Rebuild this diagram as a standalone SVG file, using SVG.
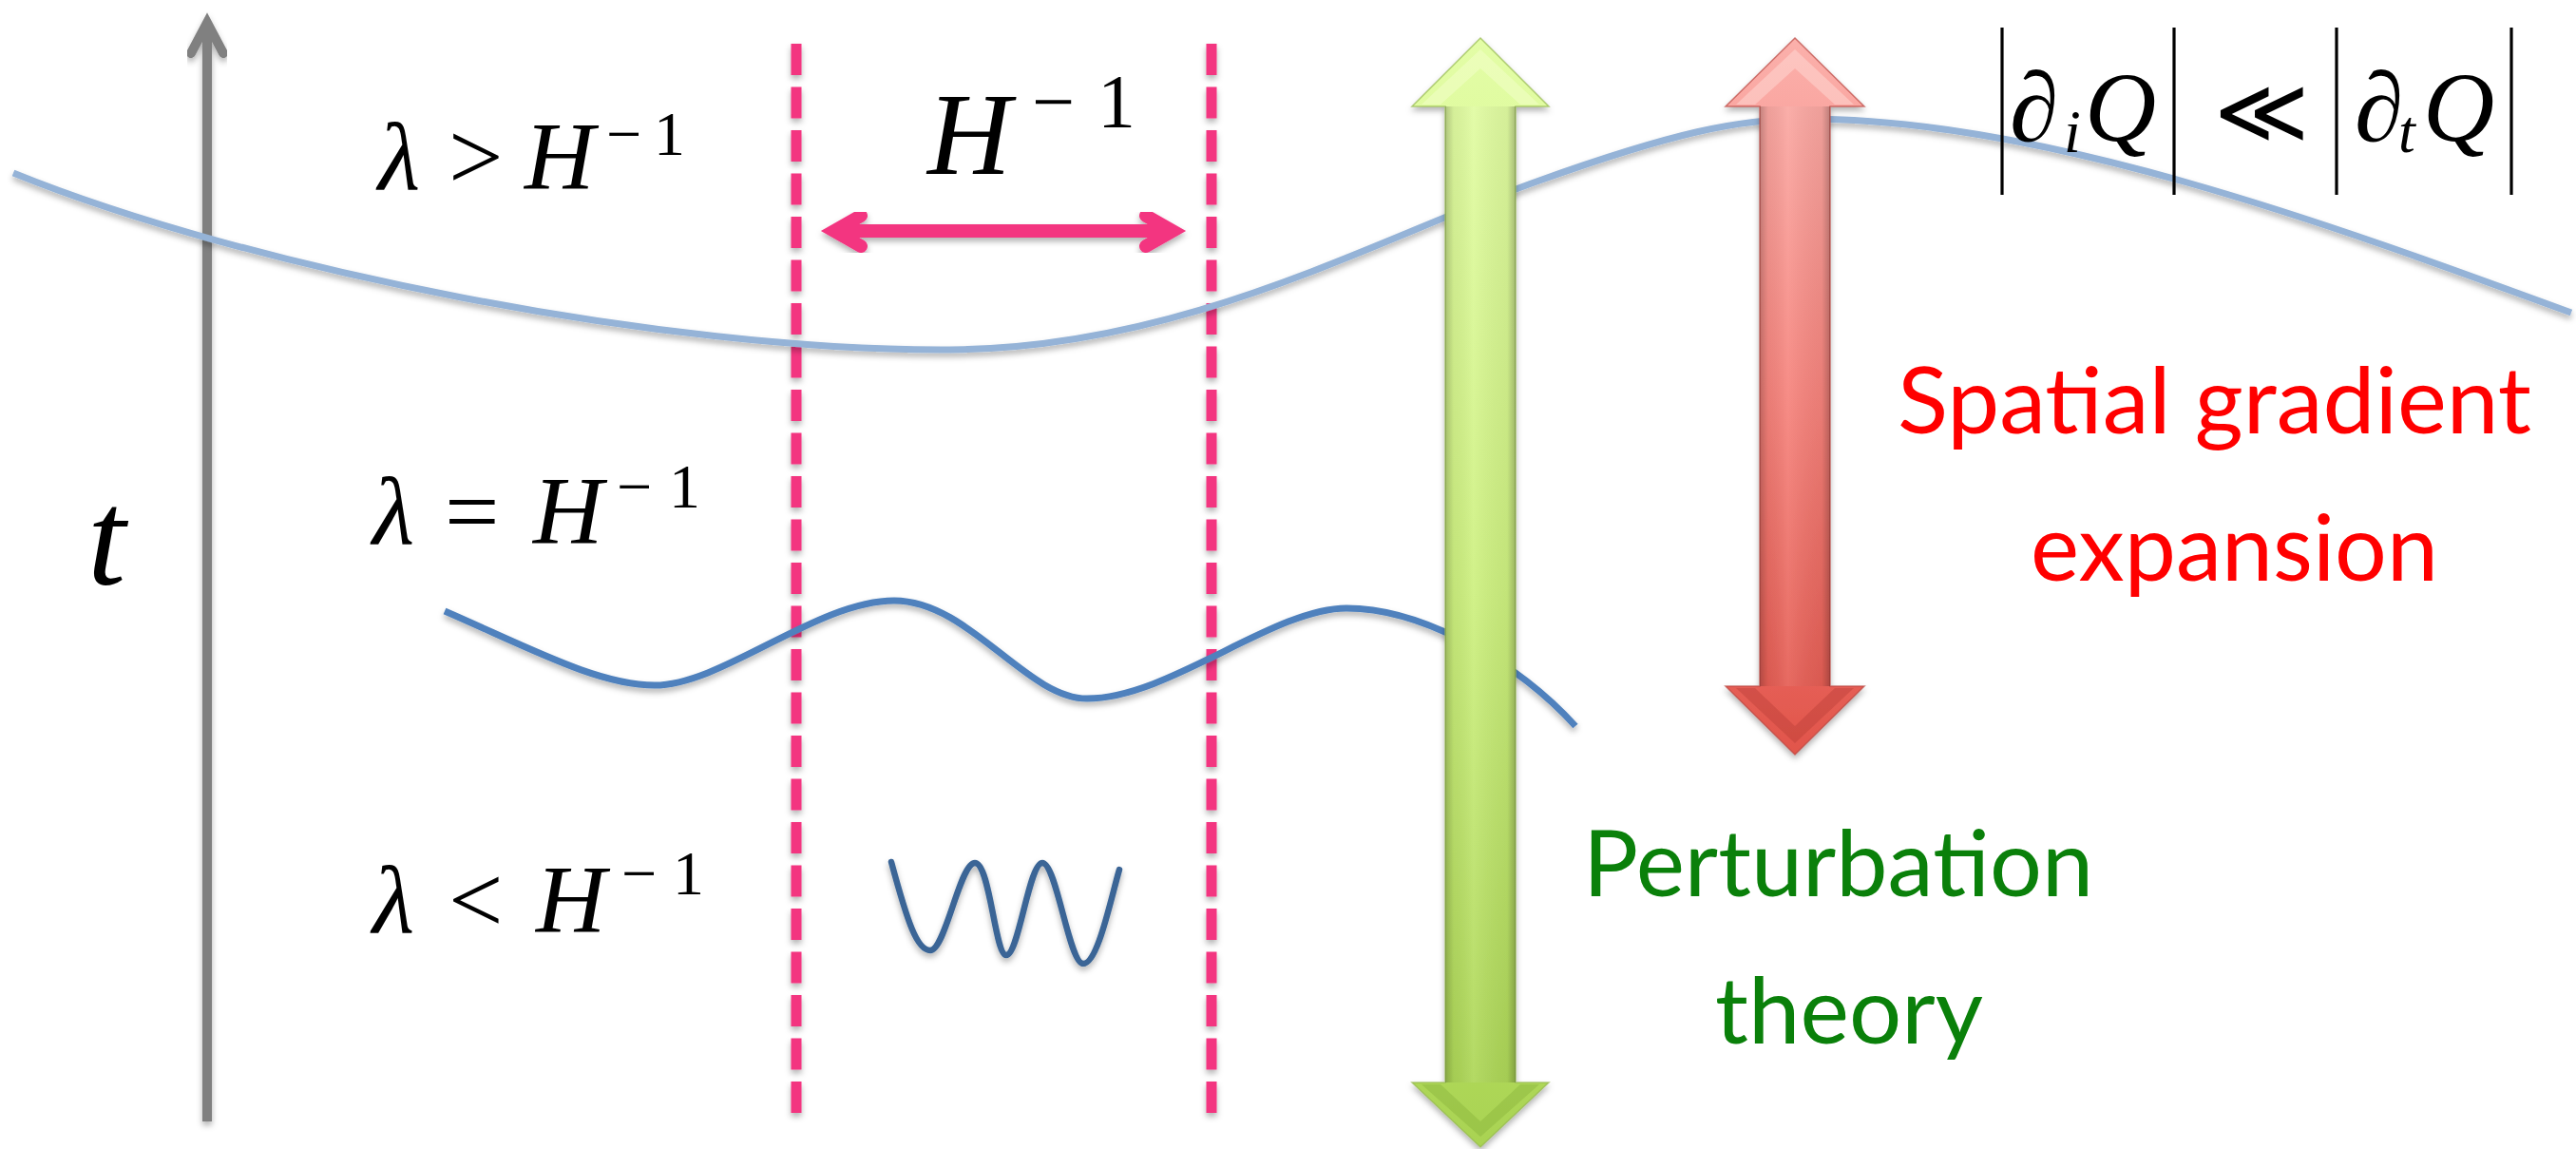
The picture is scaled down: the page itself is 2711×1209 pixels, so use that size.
<svg xmlns="http://www.w3.org/2000/svg" width="2711" height="1209" viewBox="0 0 2711 1209">
<style>
.math{font-family:"Liberation Serif","DejaVu Serif",serif;fill:#000}
.it{font-style:italic}
.lbl{font-family:Lato,"Open Sans","Liberation Sans",sans-serif;font-size:96px}
.red{fill:#ff0000}
.green{fill:#0a800a}
.dash{stroke:#f33580;stroke-width:11;stroke-dasharray:33 12.5;fill:none}
.pink{stroke:#f33580;stroke-width:14;fill:none;stroke-linecap:round;stroke-linejoin:miter}
.bar{stroke:#000;stroke-width:3.2}
</style>
<defs>
<filter id="sh" x="-10%" y="-10%" width="120%" height="130%">
<feDropShadow dx="0" dy="4" stdDeviation="3" flood-color="#000" flood-opacity="0.3"/>
</filter>
<linearGradient id="gV" x1="0" y1="0" x2="0" y2="1">
<stop offset="0" stop-color="#e3fda6"/>
<stop offset="0.5" stop-color="#cdf07f"/>
<stop offset="1" stop-color="#a9d352"/>
</linearGradient>
<linearGradient id="rV" x1="0" y1="0" x2="0" y2="1">
<stop offset="0" stop-color="#fbb0ab"/>
<stop offset="0.5" stop-color="#f6837c"/>
<stop offset="1" stop-color="#e1554b"/>
</linearGradient>
<linearGradient id="edge" x1="0" y1="0" x2="1" y2="0">
<stop offset="0" stop-color="#000" stop-opacity="0.22"/>
<stop offset="0.12" stop-color="#000" stop-opacity="0.05"/>
<stop offset="0.4" stop-color="#fff" stop-opacity="0.08"/>
<stop offset="0.88" stop-color="#000" stop-opacity="0.05"/>
<stop offset="1" stop-color="#000" stop-opacity="0.25"/>
</linearGradient>
</defs>
<rect width="2711" height="1209" fill="#fff"/>

<g id="connectors">
<g id="time-axis" filter="url(#sh)">
<path d="M218,1180 L218,26" stroke="#808080" stroke-width="10" fill="none"/>
<path d="M201,56 L218,24 L235,56" stroke="#808080" stroke-width="10" fill="none" stroke-linecap="round" stroke-linejoin="miter"/>
</g>
<g id="horizon-lines" filter="url(#sh)">
<line class="dash" x1="838" y1="46" x2="838" y2="1172"/>
<line class="dash" x1="1275" y1="46" x2="1275" y2="1172"/>
</g>
<g id="hubble-arrow" filter="url(#sh)">
<path class="pink" d="M880,243 L1232,243"/>
<path class="pink" d="M906,227 L878,243 L906,259"/>
<path class="pink" d="M1206,227 L1234,243 L1206,259"/>
</g>
</g>

<g id="wave-long" filter="url(#sh)">
<path d="M14,182 C260,282 700,370 1000,368 C1250,366 1450,250 1620,190 C1760,140 1830,125 1900,125 C2150,125 2450,235 2706,329" stroke="#95b3d7" stroke-width="7" fill="none"/>
</g>
<g id="wave-medium" filter="url(#sh)">
<path d="M468,643 C560,683 630,721 689,721 C760,721 860,632 941,632 C1020,632 1080,735 1144,735 C1230,735 1340,640 1417,640 C1500,640 1600,700 1658,764" stroke="#4f81bd" stroke-width="7" fill="none"/>
</g>
<g id="wave-short" filter="url(#sh)">
<path d="M938,907 C955,970 965,1000 979,1000 C995,1000 1010,908 1026,908 C1042,908 1047,1005 1059,1005 C1072,1005 1083,908 1097,908 C1112,908 1125,1014 1140,1014 C1155,1014 1168,950 1178,915" stroke="#3b6596" stroke-width="6.5" fill="none" stroke-linecap="round"/>
</g>

<g id="perturbation-arrow" filter="url(#sh)">
<polygon points="1558,40 1630,112 1595,112 1595,1139 1630,1139 1558,1207 1486,1139 1521,1139 1521,112 1486,112" fill="url(#gV)" stroke="#94b84e" stroke-width="1.5" stroke-opacity="0.7"/>
<rect x="1521" y="112" width="74" height="1027" fill="url(#edge)"/>
<polygon points="1558,52 1620,110 1600,110 1558,72 1516,110 1496,110" fill="#f6ffd0" opacity="0.45"/>
<polygon points="1496,1141 1516,1141 1558,1180 1600,1141 1620,1141 1558,1196" fill="#6f9a2a" opacity="0.25"/>
</g>
<g id="gradient-arrow" filter="url(#sh)">
<polygon points="1889,40 1962,112 1926,112 1926,722 1962,722 1889,794 1816,722 1852,722 1852,112 1816,112" fill="url(#rV)" stroke="#b9453e" stroke-width="1.5" stroke-opacity="0.7"/>
<rect x="1852" y="112" width="74" height="610" fill="url(#edge)"/>
<polygon points="1889,52 1951,110 1931,110 1889,72 1847,110 1827,110" fill="#ffe0dc" opacity="0.45"/>
<polygon points="1827,724 1847,724 1889,764 1931,724 1951,724 1889,782" fill="#9a2a24" opacity="0.25"/>
</g>

<g id="label-t"><text class="math it" x="92" y="615" font-size="145">t</text></g>

<g id="label-row1" class="math" font-size="102">
<text class="it" x="398" y="199">λ</text>
<text x="472" y="199">&gt;</text>
<text class="it" x="552" y="199">H</text>
<text x="638" y="163" font-size="66">−</text>
<text x="688" y="163" font-size="66">1</text>
</g>
<g id="label-row2" class="math" font-size="102">
<text class="it" x="392" y="572">λ</text>
<text x="468" y="572">=</text>
<text class="it" x="561" y="572">H</text>
<text x="649" y="534" font-size="66">−</text>
<text x="704" y="534" font-size="66">1</text>
</g>
<g id="label-row3" class="math" font-size="102">
<text class="it" x="392" y="981">λ</text>
<text x="472" y="981">&lt;</text>
<text class="it" x="564" y="981">H</text>
<text x="654" y="941" font-size="66">−</text>
<text x="708" y="941" font-size="66">1</text>
</g>
<g id="label-hubble" class="math">
<text class="it" x="976" y="183" font-size="122">H</text>
<text x="1086" y="134" font-size="80">−</text>
<text x="1155" y="134" font-size="80">1</text>
</g>

<g id="label-condition" class="math">
<line class="bar" x1="2107" y1="29" x2="2107" y2="205"/>
<line class="bar" x1="2288" y1="29" x2="2288" y2="205"/>
<line class="bar" x1="2459" y1="29" x2="2459" y2="205"/>
<line class="bar" x1="2643" y1="29" x2="2643" y2="205"/>
<text x="2115" y="148" font-size="104">∂</text>
<text class="it" x="2172" y="160" font-size="64">i</text>
<text class="it" x="2194" y="148" font-size="104">Q</text>
<text x="2330" y="150" font-size="96" font-family="DejaVu Sans" font-weight="200">≪</text>
<text x="2478" y="148" font-size="104">∂</text>
<text class="it" x="2524" y="160" font-size="64">t</text>
<text class="it" x="2550" y="148" font-size="104">Q</text>
</g>

<g id="label-gradient" class="lbl red">
<text x="1997" y="456" textLength="667" lengthAdjust="spacingAndGlyphs">Spatial gradient</text>
<text x="2137" y="611" textLength="429" lengthAdjust="spacingAndGlyphs">expansion</text>
</g>
<g id="label-perturbation" class="lbl green">
<text x="1666" y="943" textLength="537" lengthAdjust="spacingAndGlyphs">Perturbation</text>
<text x="1805" y="1098" textLength="282" lengthAdjust="spacingAndGlyphs">theory</text>
</g>
</svg>
